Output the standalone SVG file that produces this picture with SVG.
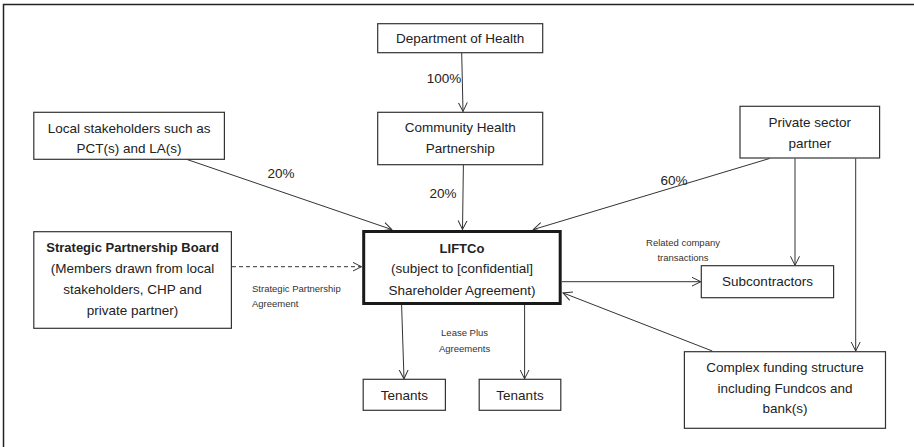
<svg xmlns="http://www.w3.org/2000/svg" width="914" height="447" viewBox="0 0 914 447">
<style>
  .box { fill: #ffffff; stroke: #333333; stroke-width: 1.2; }
  .thick { fill: #ffffff; stroke: #1a1a1a; stroke-width: 3; }
  .t { font-family: "Liberation Sans", Arial, sans-serif; font-size: 13.5px; fill: #222222; text-anchor: middle; }
  .b { font-weight: bold; font-size: 13px; }
  .s { font-family: "Liberation Sans", Arial, sans-serif; font-size: 9.5px; fill: #333333; }
  .c { text-anchor: middle; }
  .ln { stroke: #333333; stroke-width: 1; fill: none; marker-end: url(#arr); }
  .dash { stroke-dasharray: 4 3; }
  .frame { stroke: #222222; stroke-width: 1.5; fill: none; }
</style>
<defs>
  <marker id="arr" markerUnits="userSpaceOnUse" markerWidth="12" markerHeight="12" refX="9" refY="5" orient="auto">
    <path d="M0,0.5 L9,5 L0,9.5" fill="none" stroke="#333333" stroke-width="1"/>
  </marker>
</defs>
<rect width="914" height="447" fill="#ffffff"/>
<path class="frame" d="M3.5,447 L3.5,4.5 L914,4.5"/>

<g id="connectors">
  <line class="ln" x1="461.7" y1="52.7" x2="463" y2="111.5"/>
  <line class="ln" x1="186.5" y1="159.3" x2="391.7" y2="229.5"/>
  <line class="ln" x1="463.4" y1="164.7" x2="462.5" y2="229.5"/>
  <line class="ln" x1="769.5" y1="158.5" x2="533.4" y2="229.5"/>
  <line class="ln dash" x1="232" y1="266.7" x2="361.5" y2="266.7"/>
  <line class="ln" x1="562" y1="281.7" x2="700.8" y2="281.7"/>
  <line class="ln" x1="795" y1="158.5" x2="795" y2="265.3"/>
  <line class="ln" x1="855.7" y1="158.5" x2="855.7" y2="351"/>
  <line class="ln" x1="712.3" y1="351" x2="563" y2="292.9"/>
  <line class="ln" x1="401.6" y1="305" x2="404" y2="378.8"/>
  <line class="ln" x1="524.6" y1="305" x2="524.6" y2="378.8"/>
  <text class="t" x="444" y="83">100%</text>
  <text class="t" x="281" y="178">20%</text>
  <text class="t" x="443" y="198">20%</text>
  <text class="t" x="674" y="185">60%</text>
  <text class="s" x="252" y="292">Strategic Partnership</text>
  <text class="s" x="252" y="307">Agreement</text>
  <text class="s c" x="683" y="246">Related company</text>
  <text class="s c" x="683" y="261">transactions</text>
  <text class="s c" x="464.6" y="336">Lease Plus</text>
  <text class="s c" x="464.6" y="351.5">Agreements</text>
</g>

<g id="doh">
  <rect class="box" x="377.7" y="23.7" width="165" height="29"/>
  <text class="t" x="460.2" y="43">Department of Health</text>
</g>
<g id="chp">
  <rect class="box" x="377.7" y="112.3" width="165" height="52.4"/>
  <text class="t" x="460.2" y="132">Community Health</text>
  <text class="t" x="460.2" y="153">Partnership</text>
</g>
<g id="local">
  <rect class="box" x="33.8" y="112.3" width="190.6" height="47"/>
  <text class="t" x="129.1" y="132.5">Local stakeholders such as</text>
  <text class="t" x="129.1" y="153">PCT(s) and LA(s)</text>
</g>
<g id="private">
  <rect class="box" x="740" y="106.3" width="139.6" height="51.7"/>
  <text class="t" x="809.8" y="126.5">Private sector</text>
  <text class="t" x="809.8" y="147.5">partner</text>
</g>
<g id="spb">
  <rect class="box" x="33.8" y="231.7" width="197.6" height="96.6"/>
  <text class="t b" x="132.6" y="251.5">Strategic Partnership Board</text>
  <text class="t" x="132.6" y="272.5">(Members drawn from local</text>
  <text class="t" x="132.6" y="293.5">stakeholders, CHP and</text>
  <text class="t" x="132.6" y="314.5">private partner)</text>
</g>
<g id="liftco">
  <rect class="thick" x="363.7" y="231.5" width="196.5" height="72"/>
  <text class="t b" x="462" y="252.5">LIFTCo</text>
  <text class="t" x="462" y="273">(subject to [confidential]</text>
  <text class="t" x="462" y="294.5">Shareholder Agreement)</text>
</g>
<g id="subcontractors">
  <rect class="box" x="701.3" y="265.7" width="132.3" height="32"/>
  <text class="t" x="767.5" y="286">Subcontractors</text>
</g>
<g id="funding">
  <rect class="box" x="684.4" y="351.7" width="201.1" height="76.6"/>
  <text class="t" x="785" y="371.5">Complex funding structure</text>
  <text class="t" x="785" y="392.5">including Fundcos and</text>
  <text class="t" x="785" y="413">bank(s)</text>
</g>
<g id="tenants1">
  <rect class="box" x="363.2" y="379.3" width="82.2" height="31"/>
  <text class="t" x="404.3" y="399.5">Tenants</text>
</g>
<g id="tenants2">
  <rect class="box" x="479.2" y="379.3" width="81.6" height="31"/>
  <text class="t" x="520" y="399.5">Tenants</text>
</g>
</svg>
